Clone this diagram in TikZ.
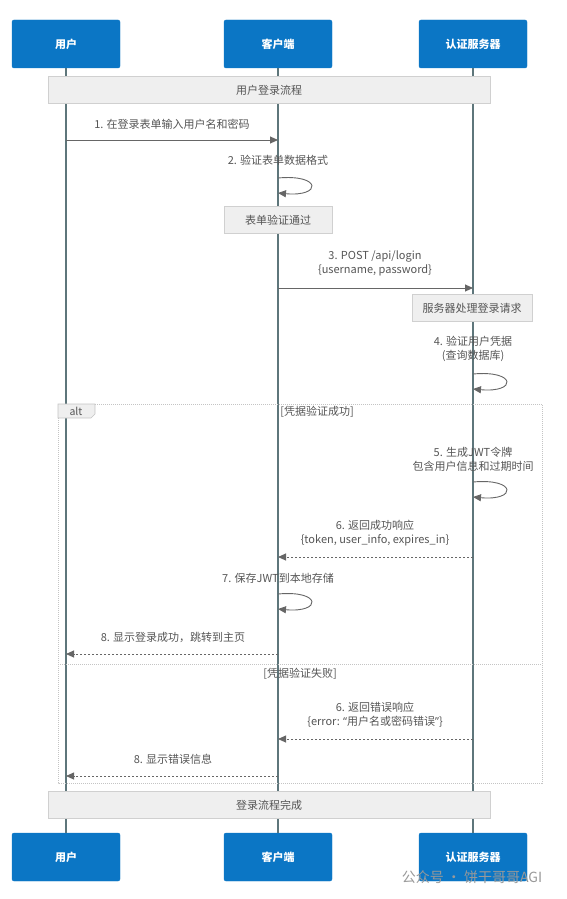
\documentclass[tikz,border=0pt]{standalone}
\usepackage{fontspec}
\setmainfont{Noto Sans CJK SC}
\newfontfamily\latinq{Noto Sans}
\usetikzlibrary{arrows.meta}
\definecolor{actor}{HTML}{0B76C5}
\definecolor{life}{HTML}{5E767B}
\definecolor{msgc}{HTML}{666666}
\definecolor{txt}{HTML}{555555}
\definecolor{barfill}{HTML}{EFEFEF}
\definecolor{barline}{HTML}{D0D0D0}
\definecolor{framec}{HTML}{C4C4C4}
\newcommand{\lblfont}{\fontsize{11}{14}\selectfont}
\begin{document}
\begin{tikzpicture}[x=1pt,y=-1pt,
  actorbox/.style={draw=actor, fill=actor, rounded corners=2pt, minimum width=108pt, minimum height=48pt, text=white, font=\fontsize{11}{13}\selectfont\bfseries, inner sep=0pt},
  lifeline/.style={draw=life, line width=1.4pt},
  flowbar/.style={draw=barline, fill=barfill, minimum width=442pt, minimum height=27pt, text=txt, font=\lblfont, inner sep=0pt},
  notebox/.style={draw=barline, fill=barfill, minimum height=27pt, text=txt, font=\lblfont, inner sep=0pt},
  msg/.style={draw=msgc, line width=0.9pt, -{Triangle[length=8pt,width=7pt]}},
  reply/.style={msg, dash pattern=on 2pt off 2pt},
  lbl/.style={text=txt, font=\lblfont, align=center, inner sep=0pt},
  altframe/.style={draw=framec, line width=0.8pt, dash pattern=on 1pt off 1pt},
]
\useasboundingbox (0,0) rectangle (567,899);
\def\xU{66}\def\xC{278}\def\xS{473}
% actors
\node[actorbox] (uT) at (\xU,44) {用户};
\node[actorbox] (cT) at (\xC,44) {客户端};
\node[actorbox] (sT) at (\xS,44) {认证服务器};
\node[actorbox] (uB) at (\xU,857) {用户};
\node[actorbox] (cB) at (\xC,857) {客户端};
\node[actorbox] (sB) at (\xS,857) {认证服务器};
% lifelines
\draw[lifeline] (uT.south) -- (uB.north);
\draw[lifeline] (cT.south) -- (cB.north);
\draw[lifeline] (sT.south) -- (sB.north);
% header / footer
\node[flowbar] (hdr) at (269,90) {用户登录流程};
\node[flowbar] (ftr) at (269,805) {登录流程完成};
% 1
\coordinate (m1a) at (\xU,140); \coordinate (m1b) at (\xC,140);
\node[lbl] (l1) at (172,124) {1. 在登录表单输入用户名和密码};
\draw[msg] (m1a) -- (m1b);
% 2 self
\node[lbl] (l2) at (\xC,160) {2. 验证表单数据格式};
\coordinate (m2a) at (\xC,178); \coordinate (m2b) at (\xC,193);
\draw[msg] (m2a) .. controls (322,174) and (322,197) .. (m2b);
% note
\node[notebox, minimum width=108pt] (n1) at (\xC,220) {表单验证通过};
% 3
\node[lbl] (l3) at (375,263) {3. POST /api/login\\\{username, password\}};
\coordinate (m3a) at (\xC,288); \coordinate (m3b) at (\xS,288);
\draw[msg] (m3a) -- (m3b);
\node[notebox, minimum width=120pt] (n2) at (472,308) {服务器处理登录请求};
% 4 self
\node[lbl] (l4) at (\xS,349) {4. 验证用户凭据\\(查询数据库)};
\coordinate (m4a) at (\xS,374); \coordinate (m4b) at (\xS,389);
\draw[msg] (m4a) .. controls (517,370) and (517,393) .. (m4b);
% alt frame
\draw[altframe] (58,404) rectangle (542,783);
\draw[draw=framec, fill=barfill, line width=0.6pt] (58,404) -- (95,404) -- (95,414) -- (91,418) -- (58,418) -- cycle;
\node[text=txt, font=\fontsize{10.5}{12}\selectfont, inner sep=0pt] (alttab) at (76,411) {alt};
\node[lbl] (g1) at (317,412) {[凭据验证成功]};
% 5 self
\node[lbl] (l5) at (\xS,459) {5. 生成JWT令牌\\包含用户信息和过期时间};
\coordinate (m5a) at (\xS,482); \coordinate (m5b) at (\xS,497);
\draw[msg] (m5a) .. controls (517,478) and (517,501) .. (m5b);
% 6
\node[lbl] (l6) at (375,533) {6. 返回成功响应\\\{token, user\_info, expires\_in\}};
\coordinate (m6a) at (\xS,557); \coordinate (m6b) at (\xC,557);
\draw[reply] (m6a) -- (m6b);
% 7 self
\node[lbl] (l7) at (\xC,578) {7. 保存JWT到本地存储};
\coordinate (m7a) at (\xC,594); \coordinate (m7b) at (\xC,609);
\draw[msg] (m7a) .. controls (322,590) and (322,613) .. (m7b);
% 8
\node[lbl] (l8) at (173,637) {8. 显示登录成功，跳转到主页};
\coordinate (m8a) at (\xC,654); \coordinate (m8b) at (\xU,654);
\draw[reply] (m8a) -- (m8b);
% separator
\coordinate (sepL) at (58,664); \coordinate (sepR) at (542,664);
\draw[altframe] (sepL) -- (sepR);
\node[lbl] (g2) at (300,674) {[凭据验证失败]};
% 6 fail
\node[lbl] (l6f) at (375,715) {6. 返回错误响应\\\{error: {\latinq “}用户名或密码错误{\latinq ”}\}};
\coordinate (m9a) at (\xS,739); \coordinate (m9b) at (\xC,739);
\draw[reply] (m9a) -- (m9b);
% 8 fail
\node[lbl] (l8f) at (173,759) {8. 显示错误信息};
\coordinate (m10a) at (\xC,776); \coordinate (m10b) at (\xU,776);
\draw[reply] (m10a) -- (m10b);
% watermark
\node[text=black!40, font=\fontsize{14}{16}\selectfont, inner sep=0pt] (wm) at (472,877) {公众号 · 饼干哥哥AGI};
\end{tikzpicture}
\end{document}
